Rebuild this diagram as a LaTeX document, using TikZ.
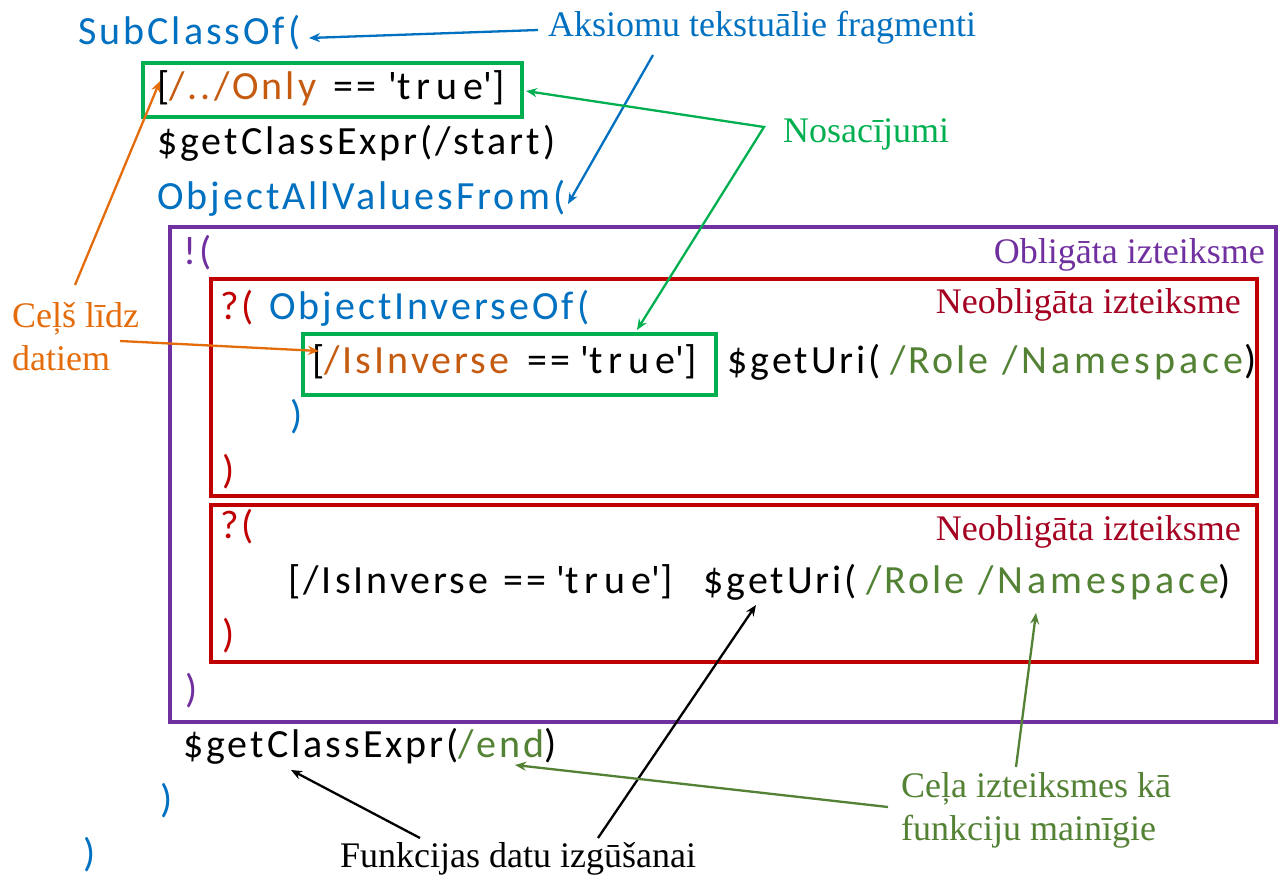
\documentclass[tikz,border=0pt]{standalone}
\usepackage{fontspec}
\setmainfont{Liberation Serif}
\newfontfamily\codefont{Carlito}[LetterSpace=7.5]
\usetikzlibrary{arrows.meta}
\definecolor{cblue}{HTML}{0070C0}
\definecolor{corange}{HTML}{C55A11}
\definecolor{lorange}{HTML}{E46C0A}
\definecolor{cgreen}{HTML}{00B050}
\definecolor{cdgreen}{HTML}{548235}
\definecolor{cpurple}{HTML}{7030A0}
\definecolor{cred}{HTML}{C00000}
\definecolor{ccrimson}{HTML}{A50021}
\newcommand{\sq}{\textquotesingle}
\newcommand{\pc}[2]{\makebox[#1pt][l]{#2}}
\newcommand{\wide}[1]{{\addfontfeature{LetterSpace=10}#1}}
\newcommand{\tw}[1]{{\addfontfeature{LetterSpace=15}#1}}
\begin{document}
\begin{tikzpicture}[x=1pt,y=-1pt,
  code/.style={anchor=base west,inner sep=0pt,font=\codefont\fontsize{40}{48}\selectfont},
  lab/.style={anchor=base west,inner sep=0pt,font=\fontsize{36}{43}\selectfont},
  labr/.style={anchor=base east,inner sep=0pt,font=\fontsize{36}{43}\selectfont},
  box/.style={line width=4.5pt},
  arr/.style={line width=2.3pt,-{Stealth[length=11pt,width=9pt]}},
  darr/.style={line width=2.3pt,{Stealth[length=11pt,width=9pt]}-{Stealth[length=11pt,width=9pt]}}]
\useasboundingbox (0,0) rectangle (1280,875);
\fill[white] (0,0) rectangle (1280,875);
% boxes
\draw[box,cpurple] (170,227) rectangle (1276,722);
\draw[box,cred] (211,279) rectangle (1257,496);
\draw[box,cred] (211,505) rectangle (1257,662);
\draw[box,cgreen] (143,63) rectangle (522,117);
\draw[box,cgreen] (303,334) rectangle (716,395);
% code lines
\node[code,text=cblue] (l1) at (78,45) {SubClassOf(};
\node[code] (l2) at (157,99.8) {\pc{176}{[\textcolor{corange}{/../Only}}\pc{55}{==}\tw{\sq true\sq]}};
\node[code] (l3) at (157,154.6) {\$getClassExpr(/start)};
\node[code,text=cblue] (l4) at (157,209.4) {ObjectAllValuesFrom(};
\node[code,text=cpurple] (l5) at (183,264.2) {!(};
\node[code] (l6) at (220,319) {\pc{49}{\textcolor{cred}{?(}}\textcolor{cblue}{ObjectInverseOf(}};
\node[code] (l7) at (312,373.8) {\pc{215}{[\textcolor{corange}{/IsInverse}}\pc{53}{==}\pc{147}{\tw{\sq true\sq]}}\pc{163}{\$getUri(}\pc{112}{\textcolor{cdgreen}{/Role}}\pc{242}{\textcolor{cdgreen}{\wide{/Namespace}}})};
\node[code,text=cblue] (l8) at (290,428.6) {)};
\node[code,text=cred] (l9) at (222,483.4) {)};
\node[code,text=cred] (l10) at (220,538.2) {?(};
\node[code] (l11) at (288,593) {\pc{215}{[/IsInverse}\pc{53}{==}\pc{147}{\tw{\sq true\sq]}}\pc{163}{\$getUri(}\pc{112}{\textcolor{cdgreen}{/Role}}\pc{240}{\textcolor{cdgreen}{\wide{/Namespace}}})};
\node[code,text=cred] (l12) at (222,647.8) {)};
\node[code,text=cpurple] (l13) at (185,702.6) {)};
\node[code] (l14) at (183,757.4) {\$getClassExpr(\textcolor{cdgreen}{/end})};
\node[code,text=cblue] (l15) at (160,812.2) {)};
\node[code,text=cblue] (l16) at (83,866) {)};
% labels
\node[lab,text=cblue] (ax) at (548,37) {Aksiomu tekstuālie fragmenti};
\node[lab,text=cgreen] (nos) at (783,142) {Nosacījumi};
\node[labr,text=cpurple] (obl) at (1265,263) {Obligāta izteiksme};
\node[labr,text=ccrimson] (neo1) at (1241,313) {Neobligāta izteiksme};
\node[labr,text=ccrimson] (neo2) at (1241,540) {Neobligāta izteiksme};
\node[lab,text=lorange] (cel1) at (12,327) {Ceļš līdz};
\node[lab,text=lorange] (cel2) at (12,370) {datiem};
\node[lab] (fun) at (340,867) {Funkcijas datu izgūšanai};
\node[lab,text=cdgreen] (cp1) at (901,797) {Ceļa izteiksmes kā};
\node[lab,text=cdgreen] (cp2) at (901,840) {funkciju mainīgie};
% connector points
\coordinate (a1s) at (538,30); \coordinate (a1e) at (309,38);
\coordinate (a2s) at (653,55); \coordinate (a2e) at (568,204);
\coordinate (g1) at (526,91); \coordinate (gk) at (764,127); \coordinate (g2) at (637,330);
\coordinate (o1s) at (75,285); \coordinate (o1e) at (160,81);
\coordinate (o2s) at (120,341); \coordinate (o2e) at (319,351);
\coordinate (b1s) at (420,838); \coordinate (b1e) at (291,770);
\coordinate (b2s) at (598,838); \coordinate (b2e) at (756,605);
\coordinate (d1s) at (888,807); \coordinate (d1e) at (515,765);
\coordinate (d2s) at (1016,767); \coordinate (d2e) at (1036,613);
% connectors
\draw[arr,cblue] (a1s) -- (a1e);
\draw[arr,cblue] (a2s) -- (a2e);
\draw[darr,cgreen] (g1) -- (gk) -- (g2);
\draw[arr,lorange] (o1s) -- (o1e);
\draw[arr,lorange] (o2s) -- (o2e);
\draw[arr,black] (b1s) -- (b1e);
\draw[arr,black] (b2s) -- (b2e);
\draw[arr,cdgreen] (d1s) -- (d1e);
\draw[arr,cdgreen] (d2s) -- (d2e);
\end{tikzpicture}
\end{document}
